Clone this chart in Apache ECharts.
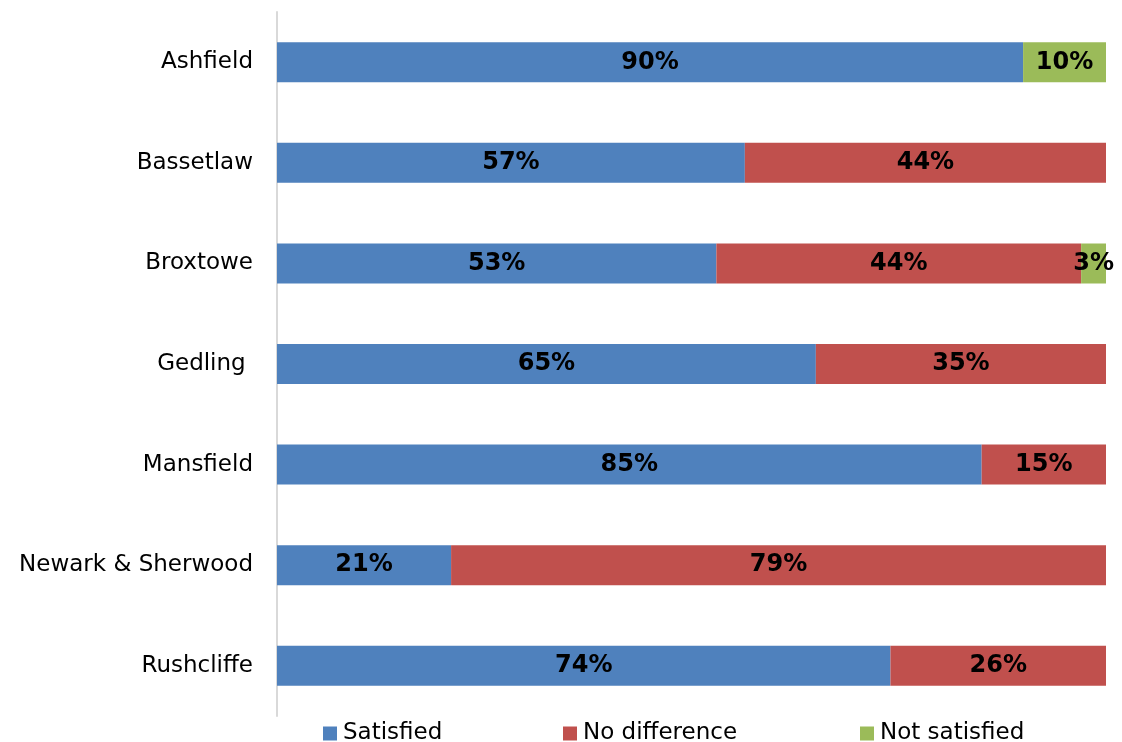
<!DOCTYPE html>
<html>
<head>
<meta charset="utf-8">
<script src="https://cdn.jsdelivr.net/npm/echarts@6/dist/echarts.min.js"></script>
<style>
  html, body { margin: 0; padding: 0; background: #ffffff; }
  #chart { width: 1122px; height: 742px; }
</style>
</head>
<body>
<div id="chart"></div>
<script>
// Districts, top to bottom
const districts = ['Ashfield', 'Bassetlaw', 'Broxtowe', 'Gedling ', 'Mansfield', 'Newark & Sherwood', 'Rushcliffe'];

// Response shares (%) as reported
const satisfied    = [90, 57, 53, 65, 85, 21, 74];
const noDifference = [0, 44, 44, 35, 15, 79, 26];
const notSatisfied = [10, 0, 3, 0, 0, 0, 0];

const seriesNames  = ['Satisfied', 'No difference', 'Not satisfied'];
const seriesColors = ['#4f81bd', '#c0504d', '#9bbb59'];

const FONT = 'DejaVu Sans';
const raw = [satisfied, noDifference, notSatisfied];

// Each bar is stacked to 100%: the reported values are scaled by the row total
const totals = districts.map((_, i) => raw.reduce((s, arr) => s + arr[i], 0));

const series = raw.map((arr, k) => ({
  name: seriesNames[k],
  type: 'bar',
  stack: 'total',
  barWidth: 40,
  itemStyle: { color: seriesColors[k] },
  data: arr.map((v, i) => ({ value: v / totals[i] * 100, reported: v })),
  label: {
    show: true,
    position: 'inside',
    color: '#000000',
    fontFamily: FONT,
    fontWeight: 'bold',
    fontSize: 24,
    formatter: p => p.data.reported ? p.data.reported + '%' : ''
  }
}));

// One legend per series so each entry sits at its own place along the bottom
const legendLefts = [323, 563, 860];
const legends = seriesNames.map((n, k) => ({
  data: [n],
  left: legendLefts[k],
  top: 722,
  padding: 0,
  itemWidth: 14,
  itemHeight: 14,
  icon: 'rect',
  textStyle: { fontFamily: FONT, fontSize: 23, color: '#000000', padding: [0, 0, 0, 1] }
}));

const chart = echarts.init(document.getElementById('chart'));
chart.setOption({
  animation: false,
  backgroundColor: '#ffffff',
  legend: legends,
  grid: { left: 277, right: 16, top: 12, bottom: 26, containLabel: false },
  xAxis: {
    type: 'value',
    min: 0,
    max: 100,
    show: false,
    splitLine: { show: false }
  },
  yAxis: {
    type: 'category',
    data: districts,
    inverse: true,
    axisLine: { show: true, lineStyle: { color: '#d9d9d9', width: 2 } },
    axisTick: { show: false },
    axisLabel: { fontFamily: FONT, fontSize: 23, color: '#000000', margin: 24 }
  },
  series: series
});
</script>
</body>
</html>
